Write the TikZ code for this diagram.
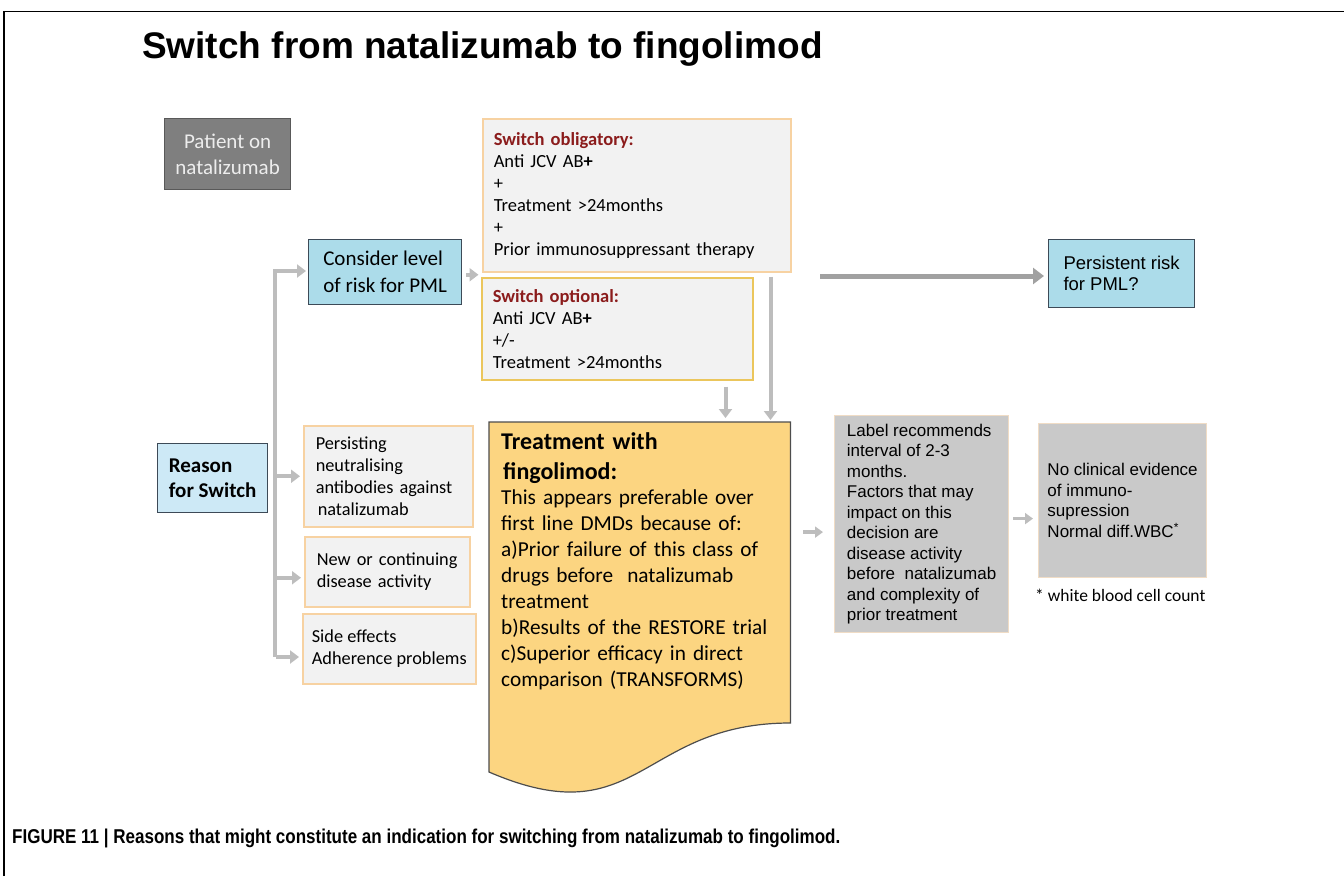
\documentclass[tikz,border=0pt]{standalone}
\usepackage{fontspec}
\usepackage{graphicx}
\setmainfont{Liberation Sans}
\newfontfamily\calfont{Carlito}
\usetikzlibrary{arrows.meta,calc}
\definecolor{patgrey}{HTML}{7F7F7F}
\definecolor{patedge}{HTML}{595959}
\definecolor{patwhite}{HTML}{EDEDED}
\definecolor{pmlblue}{HTML}{ACDCEA}
\definecolor{reasonblue}{HTML}{CDE9F6}
\definecolor{navyedge}{HTML}{3D4A57}
\definecolor{paper}{HTML}{F2F2F2}
\definecolor{peach}{HTML}{F7D2A2}
\definecolor{mustard}{HTML}{EBC65C}
\definecolor{wine}{HTML}{8B1C1C}
\definecolor{docgold}{HTML}{FCD581}
\definecolor{docedge}{HTML}{4D4D4D}
\definecolor{labelgrey}{HTML}{C9C9C9}
\definecolor{labeledge}{HTML}{F0DCC5}
\definecolor{arrowgrey}{HTML}{BDBDBD}
\begin{document}
\begin{tikzpicture}[x=1pt,y=-1pt,
	box/.style={draw, rectangle, anchor=north west, align=left, inner sep=0pt, line width=1.2pt},
	reasonbox/.style={box, fill=paper, draw=peach, line width=1.5pt, font=\calfont\fontsize{18.3}{22.3}\selectfont},
	garrow/.style={draw=arrowgrey, line width=4pt, -{Triangle[length=9pt,width=13pt]}},
	]
	\useasboundingbox (0,0) rectangle (1344,876);
	\draw[line width=1.5pt] (4,876) -- (4,11.7) -- (1344,11.7);
	\node[anchor=base west, inner sep=0pt, font=\bfseries\fontsize{37}{44}\selectfont] (title) at (142,58) {Switch from natalizumab to fingolimod};
	
	\node[box, fill=patgrey, draw=patedge, text=patwhite, align=center, minimum width=126pt, minimum height=71pt, font=\calfont\fontsize{21}{26}\selectfont] (patient) at (164,118) {Patient on\\natalizumab};
	\node[box, fill=pmlblue, draw=navyedge, minimum width=153pt, minimum height=65pt, font=\calfont\fontsize{21}{27}\selectfont] (consider) at (308,239) {Consider level\\of risk for PML};
	\node[box, fill=reasonblue, draw=navyedge, minimum width=110pt, minimum height=69pt, font=\calfont\bfseries\fontsize{21}{25.5}\selectfont] (reason) at (157,443) {Reason\\for Switch};
	
	\node[box, fill=paper, draw=peach, line width=1.5pt, text width=286pt, inner xsep=11pt, minimum height=153pt, font=\calfont\fontsize{18.5}{22}\selectfont] (oblig) at (482,118) {\textcolor{wine}{\bfseries Switch obligatory:}\\Anti JCV AB\textbf{+}\\+\\Treatment >24months\\+\\Prior immunosuppressant therapy};
	\node[box, fill=paper, draw=mustard, line width=1.5pt, text width=249pt, inner xsep=11pt, minimum height=102pt, font=\calfont\fontsize{18.5}{22}\selectfont] (opt) at (481,277) {\textcolor{wine}{\bfseries Switch optional:}\\Anti JCV AB\textbf{+}\\+/-\\Treatment >24months};
	\node[box, fill=pmlblue, draw=navyedge, minimum width=146pt, minimum height=68pt, font=\fontsize{18.5}{21.5}\selectfont] (persist) at (1048,239) {Persistent risk\\for PML?};
	
	\node[reasonbox, text width=145pt, inner xsep=12pt, minimum height=101pt] (antib) at (303,425) {Persisting\\neutralising\\antibodies against\\\hspace*{2pt}natalizumab};
	\node[reasonbox, text width=141pt, inner xsep=12pt, minimum height=70pt] (activity) at (304,536) {New or continuing\\disease activity};
	\node[reasonbox, minimum width=173pt, minimum height=70pt] (sidefx) at (302,613) {Side effects\\Adherence problems};
	
	\node[anchor=north west, minimum width=301pt, minimum height=375pt, inner sep=0pt] (treat) at (489,422) {};
	\draw[fill=docgold, draw=docedge, line width=1.2pt] (treat.north west) -- (treat.north east) -- ($(treat.north east)+(0,301)$) .. controls ($(treat.north)+(0,301)$) and ($(treat.north)+(0,415)$) .. ($(treat.north west)+(0,350)$) -- cycle;
	\node[anchor=north west, inner sep=0pt, text width=285pt, align=left, font=\calfont\bfseries\fontsize{24}{30}\selectfont] (treathead) at (501,432) {Treatment with\\\hspace*{2pt}fingolimod:};
	\node[anchor=north west, inner sep=0pt, text width=285pt, align=left, font=\calfont\fontsize{21.3}{26}\selectfont] (treatbody) at (501,490) {This appears preferable over\\first line DMDs because of:\\a)Prior failure of this class of\\drugs before\ \ natalizumab\\treatment\\b)Results of the RESTORE trial\\c)Superior efficacy in direct\\comparison (TRANSFORMS)};
	
	\node[box, fill=labelgrey, draw=labeledge, minimum width=174pt, minimum height=217pt, font=\fontsize{17}{20.5}\selectfont] (interval) at (834,415) {Label recommends\\interval of 2-3\\months.\\Factors that may\\impact on this\\decision are\\disease activity\\before\ \ natalizumab\\and complexity of\\prior treatment};
	\node[box, fill=labelgrey, draw=labeledge, minimum width=168pt, minimum height=154pt, font=\fontsize{17}{20.5}\selectfont] (noclin) at (1038,423) {No clinical evidence\\of immuno-\\supression\\Normal diff.WBC\textsuperscript{*}};
	\node[anchor=west, inner sep=0pt, font=\calfont\fontsize{17.5}{21}\selectfont] (wbc) at (1035,595) {* white blood cell count};
	
	\coordinate (trunktop) at (275,271);
	\coordinate (trunkbot) at (275,657);
	\draw[draw=arrowgrey, line width=4pt] (trunktop) -- (trunkbot);
	\draw[garrow, shorten >=2pt] ([xshift=-2pt]trunktop) -- (consider.west |- trunktop);
	\draw[garrow, shorten <=1pt, shorten >=3pt] (antib.west -| trunktop) -- (antib.west);
	\draw[garrow, shorten <=1pt, shorten >=3pt] ([yshift=-6pt]activity.west -| trunktop) -- ([yshift=-6pt]activity.west);
	\draw[garrow, shorten <=1pt, shorten >=3pt] (trunkbot) -- (sidefx.west |- trunkbot);
	
	\coordinate (gap) at ($(oblig.south west)!0.5!(opt.north west)$);
	\draw[garrow, shorten <=4pt, shorten >=3pt] (consider.east |- gap) -- (gap);
	\draw[garrow, shorten <=6pt, shorten >=4pt] ([xshift=-28pt]opt.south east) -- ([xshift=-28pt]opt.south east |- treat.north);
	\draw[garrow, shorten <=4pt, shorten >=2pt] ([xshift=-21pt]oblig.south east) -- ([xshift=-21pt]oblig.south east |- treat.north);
	\coordinate (pmlstart) at (820,276);
	\draw[garrow, draw=arrowgrey!85!black, line width=5pt, -{Triangle[length=11pt,width=16pt]}, shorten >=4pt] (pmlstart) -- (persist.west |- pmlstart);
	\draw[garrow, line width=3.5pt, -{Triangle[length=8pt,width=11pt]}, shorten <=13pt, shorten >=11pt] ([yshift=-8pt]interval.west -| treat.east) -- ([yshift=-8pt]interval.west);
	\draw[garrow, line width=3.5pt, -{Triangle[length=8pt,width=11pt]}, shorten <=4pt, shorten >=5pt] ([yshift=-18pt]noclin.west -| interval.east) -- ([yshift=-18pt]noclin.west);
	
	\node[anchor=base west, inner sep=0pt, font=\bfseries\fontsize{20}{23}\selectfont] (caption) at (12,843) {\resizebox{828pt}{\height}{FIGURE 11 | Reasons that might constitute an indication for switching from natalizumab to fingolimod.}};
\end{tikzpicture}
\end{document}
